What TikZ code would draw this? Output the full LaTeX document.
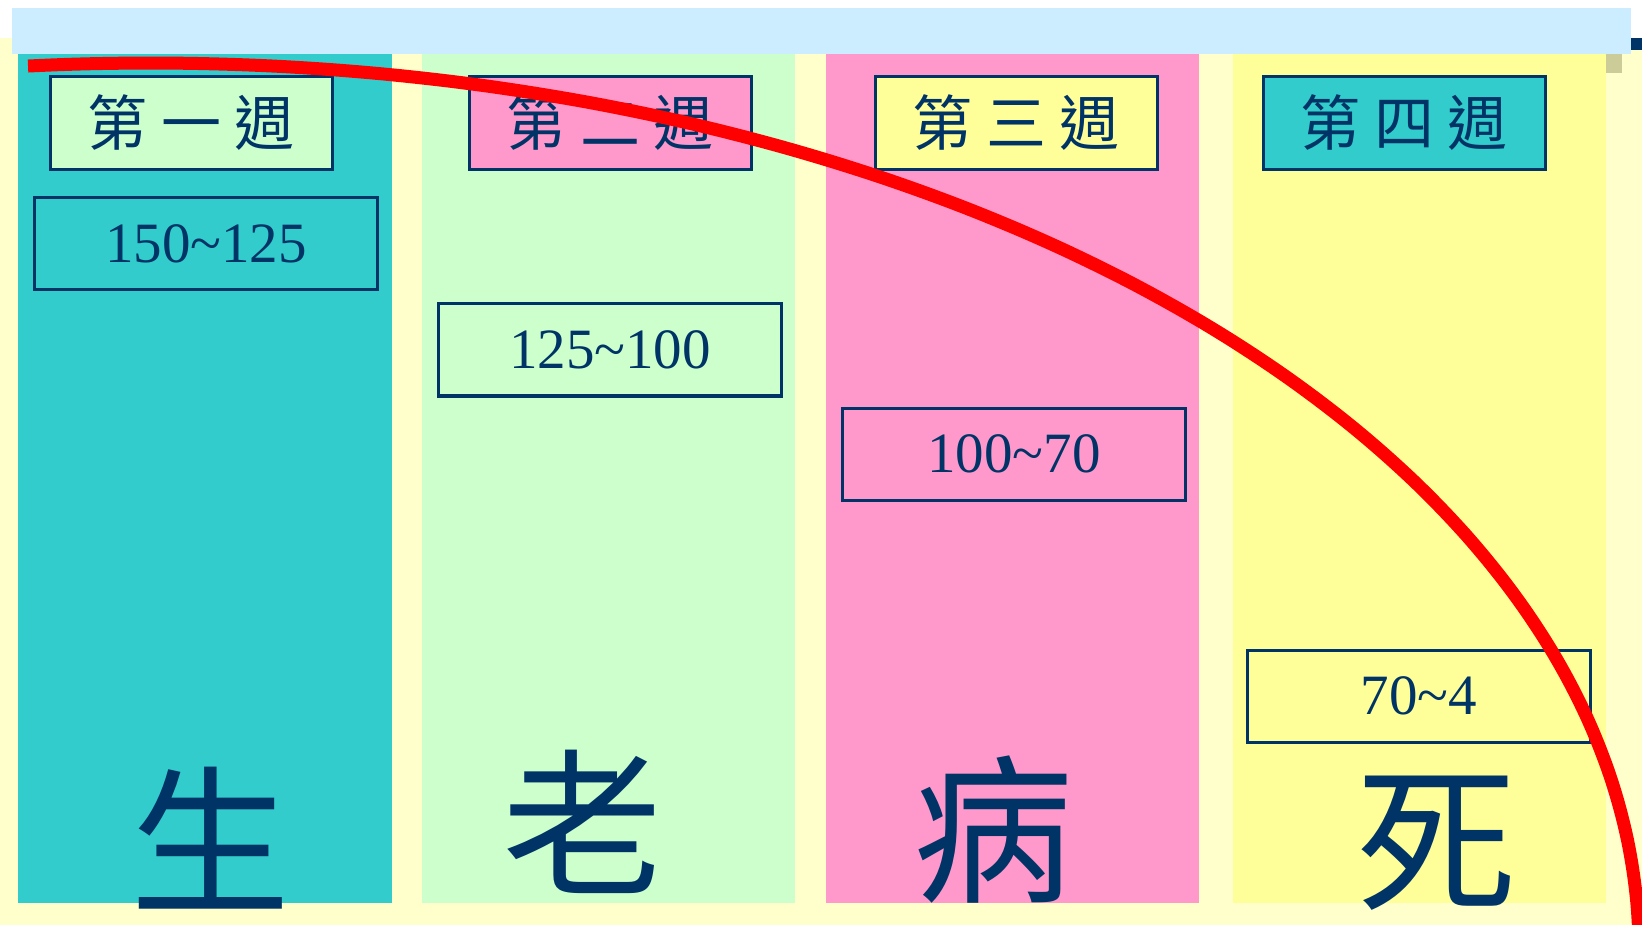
\documentclass[tikz,border=0pt]{standalone}
\usepackage{fontspec}
\setmainfont{Liberation Serif}
\newfontfamily\cjk{Noto Sans CJK TC}
\usepackage{tikz}
\definecolor{navy}{HTML}{003366}
\definecolor{cream}{HTML}{FFFFCC}
\definecolor{skyband}{HTML}{CCECFF}
\definecolor{colteal}{HTML}{33CCCC}
\definecolor{colgreen}{HTML}{CCFFCC}
\definecolor{colpink}{HTML}{FF99CC}
\definecolor{colyellow}{HTML}{FFFF99}
\definecolor{khaki}{HTML}{CCCC99}
\tikzstyle{weekbox}=[draw=navy, line width=3pt, minimum width=282pt, minimum height=93pt, text=navy, font=\cjk\fontsize{60}{60}\selectfont]
\tikzstyle{rangebox}=[draw=navy, line width=3pt, minimum width=343pt, minimum height=92pt, text=navy, font=\fontsize{57}{57}\selectfont]
\tikzstyle{stage}=[inner sep=0pt, text=navy, font=\cjk\fontsize{160}{160}\selectfont]
\tikzstyle{lifeline}=[draw=red, line width=13pt]
\newcommand{\weeknode}{\node[weekbox]}
\newcommand{\rangenode}{\node[rangebox]}

\begin{document}
\begin{tikzpicture}[x=1pt, y=-1pt]
\useasboundingbox (0,0) rectangle (1642,925);
\fill[white] (0,0) rectangle (1642,925);
\fill[cream] (0,38) rectangle (1642,925);
% the four weeks
\fill[colteal] (18,54) rectangle (392,903);
\fill[colgreen] (422,54) rectangle (795,903);
\fill[colpink] (826,54) rectangle (1199,903);
\fill[colyellow] (1233,54) rectangle (1606,903);
\fill[skyband] (12,8) rectangle (1631,54);
\fill[navy] (1631,38) rectangle (1642,50);
\fill[khaki] (1606,54) rectangle (1622,73);

\weeknode[fill=colgreen] (w1) at (191,123) {第 一 週};
\weeknode[fill=colpink] (w2) at (610,123) {第 二 週};
\weeknode[fill=colyellow] (w3) at (1016,123) {第 三 週};
\weeknode[fill=colteal] (w4) at (1404,123) {第 四 週};

\rangenode (r1) at (206,244) {150\textasciitilde125};
\rangenode (r2) at (610,350) {125\textasciitilde100};
\rangenode (r3) at (1014,454) {100\textasciitilde70};
\rangenode (r4) at (1419,696) {70\textasciitilde4};

\node[stage] (sheng) at (210,838) {生};
\node[stage] (lao) at (582,822) {老};
\node[stage] (bing) at (993,830) {病};
\node[stage] (si) at (1436,843) {死};

% decline curve (quarter ellipse)
\draw[lifeline] plot[smooth, domain=-94.7:1, samples=120] ({150+1489*cos(\x)}, {950+887*sin(\x)});
\end{tikzpicture}
\end{document}
